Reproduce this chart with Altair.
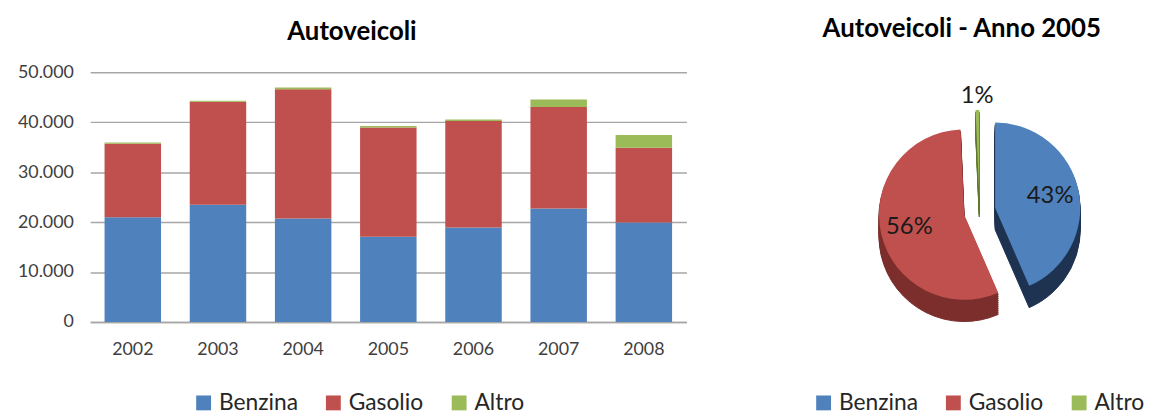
import math
import altair as alt
import pandas as pd

# ---------------- data ----------------
years = ["2002", "2003", "2004", "2005", "2006", "2007", "2008"]
benzina = [20970, 23480, 20700, 17050, 18920, 22750, 19910]
gasolio = [14730, 20630, 25930, 21920, 21360, 20310, 15010]
altro = [250, 200, 330, 270, 260, 1520, 2510]
fuels = ["Benzina", "Gasolio", "Altro"]
pie_year = "2005"
y_ticks = [0, 10000, 20000, 30000, 40000, 50000]

# ---------------- styles ----------------
FONT = "Lato"
colors = ["#4F81BD", "#C0504D", "#9BBB59"]
side_colors = ["#1F3452", "#7B2F2D", "#5E7A2F"]
GRID = "#A6A6A6"

records = []
for i, anno in enumerate(years):
    for k, (tipo, serie) in enumerate(zip(fuels, [benzina, gasolio, altro])):
        records.append({"anno": anno, "tipo": tipo, "valore": serie[i], "ordine": k})
df = pd.DataFrame(records)

color_scale = alt.Scale(domain=fuels, range=colors)
side_scale = alt.Scale(domain=fuels, range=side_colors)


def legend(x, y):
    return alt.Legend(
        orient="none", legendX=x, legendY=y, direction="horizontal", columns=3,
        title=None, symbolType="square", symbolSize=225, symbolStrokeWidth=0,
        labelFontSize=23, labelFont=FONT, labelColor="#262626",
        columnPadding=24, labelOffset=4,
    )


# ---------------- bar chart ----------------
bars = alt.Chart(df).mark_bar().encode(
    x=alt.X(
        "anno:N", sort=years, title=None,
        scale=alt.Scale(paddingInner=0.337, paddingOuter=0.1685),
        axis=alt.Axis(labelAngle=0, ticks=False, labelPadding=19, labelFontSize=18,
                      labelFont=FONT, labelColor="#404040", domainColor=GRID,
                      domainWidth=1.5, grid=False),
    ),
    y=alt.Y(
        "valore:Q", stack="zero", title=None,
        scale=alt.Scale(domain=[0, 50000], nice=False),
        axis=alt.Axis(values=y_ticks,
                      labelExpr="replace(format(datum.value, ','), ',', '.')",
                      ticks=False, domain=False, gridColor=GRID, gridWidth=1.5,
                      labelPadding=17, labelFontSize=18, labelFont=FONT,
                      labelColor="#404040"),
    ),
    color=alt.Color("tipo:N", scale=color_scale, legend=legend(103, 322)),
    order=alt.Order("ordine:Q", sort="ascending"),
).properties(
    width=602, height=252,
    title=alt.TitleParams("Autoveicoli", fontSize=26, fontWeight="bold", font=FONT,
                          color="#000000", anchor="middle", frame="bounds", offset=19),
)

# ---------------- pie chart (pseudo 3D, exploded) ----------------
CX, CY = 198, 140
R, E, D = 86, 16, 22

pie_base = (
    alt.Chart(df)
    .transform_filter(alt.datum.anno == pie_year)
    .transform_joinaggregate(tot="sum(valore)")
    .transform_stack(stack="valore", groupby=[], as_=["s0", "s1"],
                     sort=[alt.SortField("ordine", order="ascending")])
    .transform_calculate(t0="datum.s0 / datum.tot")
    .transform_calculate(t1="datum.s1 / datum.tot")
    .transform_calculate(tm="(datum.s0 + datum.s1) / (2 * datum.tot)")
    .transform_calculate(quota="datum.valore / datum.tot")
    .transform_calculate(px=f"{CX} + {E} * sin(2 * PI * datum.tm)")
    .transform_calculate(py=f"{CY} - {E} * cos(2 * PI * datum.tm)")
    .transform_calculate(pct="format(datum.quota, '.0%')")
)

theta = alt.Theta("t0:Q", stack=None, scale=alt.Scale(domain=[0, 1]))
theta2 = alt.Theta2("t1:Q")

layers = []
for off in range(D, 0, -2):
    layers.append(
        pie_base.transform_calculate(py2=f"datum.py + {off}")
        .mark_arc(radius=R, strokeWidth=1)
        .encode(
            theta=theta, theta2=theta2,
            x=alt.X("px:Q", scale=None, axis=None),
            y=alt.Y("py2:Q", scale=None, axis=None),
            fill=alt.Fill("tipo:N", scale=side_scale, legend=None),
            stroke=alt.Stroke("tipo:N", scale=side_scale, legend=None),
        )
    )

layers.append(
    pie_base.mark_arc(radius=R).encode(
        theta=theta, theta2=theta2,
        x=alt.X("px:Q", scale=None, axis=None),
        y=alt.Y("py:Q", scale=None, axis=None),
        color=alt.Color("tipo:N", scale=color_scale, legend=legend(29, 322)),
    )
)

layers.append(
    pie_base
    .transform_calculate(lr=f"datum.quota < 0.05 ? {R + 14} : {R * 0.66}")
    .transform_calculate(tx="datum.px + datum.lr * sin(2 * PI * datum.tm)")
    .transform_calculate(ty="datum.py - datum.lr * cos(2 * PI * datum.tm)")
    .mark_text(fontSize=24, font=FONT, color="#1A1A1A", baseline="middle", align="center")
    .encode(
        x=alt.X("tx:Q", scale=None, axis=None),
        y=alt.Y("ty:Q", scale=None, axis=None),
        text="pct:N",
    )
)

pie = alt.layer(*layers).properties(
    width=360, height=252,
    title=alt.TitleParams("Autoveicoli - Anno 2005", fontSize=26, fontWeight="bold",
                          font=FONT, color="#000000", anchor="middle", offset=31),
)

chart = (
    alt.hconcat(bars, pie, spacing=98)
    .resolve_scale(color="independent")
    .properties(padding={"left": 9, "top": 6, "right": 0, "bottom": 0})
    .configure(font=FONT)
    .configure_view(stroke=None)
)

chart.save("out.html", embed_options={"renderer": "svg", "actions": False})
